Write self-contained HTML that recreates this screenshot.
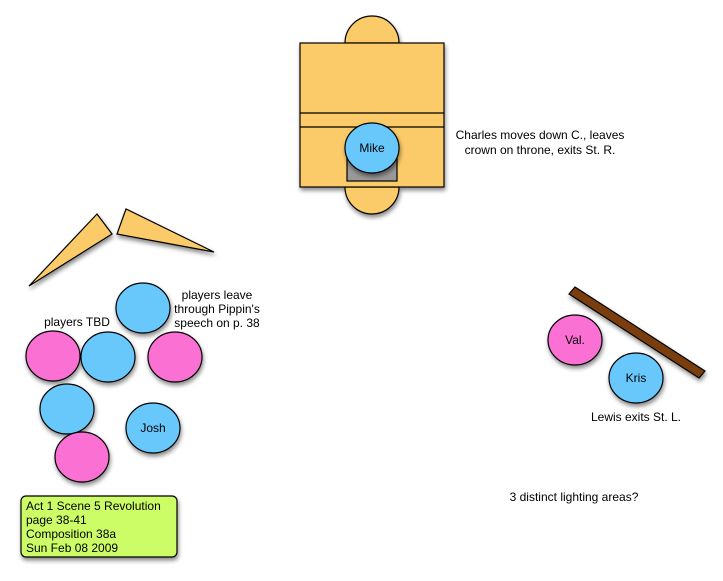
<!DOCTYPE html>
<html><head><style>body{margin:0;background:#fff}svg{display:block}text{font-family:"Liberation Sans",sans-serif;font-size:12px;fill:#000}</style></head><body>
<svg width="723" height="581" viewBox="0 0 723 581" xmlns="http://www.w3.org/2000/svg">
<defs><filter id="s" x="-20%" y="-20%" width="150%" height="150%"><feDropShadow dx="1" dy="3" stdDeviation="2" flood-opacity="0.45"/></filter></defs>
<g stroke="#000" stroke-width="1.2" filter="url(#s)">
<path d="M345,43 A27,27 0 0 1 399,43 Z" fill="#fbcb6b"/>
<path d="M345,187 A27,27 0 0 0 399,187 Z" fill="#fbcb6b"/>
<rect x="300" y="43" width="144" height="144" fill="#fbcb6b"/>
</g>
<g stroke="#000" stroke-width="1.2" fill="none"><line x1="300" y1="113" x2="444" y2="113"/><line x1="300" y1="127" x2="444" y2="127"/></g>
<rect x="347" y="157" width="50" height="24" fill="#999" stroke="#000" stroke-width="1.2"/>
<g stroke="#000" stroke-width="1.2" filter="url(#s)">
<ellipse cx="372" cy="148" rx="27" ry="25" fill="#67c8fc"/>
<polygon points="97,214 112,234 29,286" fill="#fbcb6b"/>
<polygon points="126,209 117,234 214,252" fill="#fbcb6b"/>
<ellipse cx="143" cy="308" rx="27" ry="25" fill="#67c8fc"/>
<ellipse cx="53" cy="356" rx="27" ry="25" fill="#fb6fd3"/>
<ellipse cx="108" cy="357" rx="27" ry="25" fill="#67c8fc"/>
<ellipse cx="175" cy="357" rx="27" ry="25" fill="#fb6fd3"/>
<ellipse cx="67" cy="409" rx="27" ry="25" fill="#67c8fc"/>
<ellipse cx="153" cy="428" rx="27" ry="25" fill="#67c8fc"/>
<ellipse cx="82" cy="457" rx="27" ry="25" fill="#fb6fd3"/>
<rect x="21" y="496" width="156" height="61" rx="5" fill="#ccfd66"/>
<polygon points="569,294 575,287 705,371 699,378" fill="#7a3d10"/>
<ellipse cx="575" cy="340" rx="27" ry="25" fill="#fb6fd3"/>
<ellipse cx="636" cy="378" rx="27" ry="25" fill="#67c8fc"/>
</g>
<text x="372" y="152" text-anchor="middle" font-size="11">Mike</text>
<text x="153" y="432" text-anchor="middle" font-size="11">Josh</text>
<text x="575" y="344" text-anchor="middle" font-size="11">Val.</text>
<text x="636" y="382" text-anchor="middle" font-size="11">Kris</text>
<text x="540" y="139" text-anchor="middle">Charles moves down C., leaves</text>
<text x="540" y="154" text-anchor="middle">crown on throne, exits St. R.</text>
<text x="77" y="326" text-anchor="middle">players TBD</text>
<text x="217" y="299" text-anchor="middle">players leave</text>
<text x="217" y="313" text-anchor="middle">through Pippin's</text>
<text x="217" y="327" text-anchor="middle">speech on p. 38</text>
<text x="636" y="421" text-anchor="middle">Lewis exits St. L.</text>
<text x="574" y="501" text-anchor="middle">3 distinct lighting areas?</text>
<text x="26" y="510">Act 1 Scene 5 Revolution</text>
<text x="26" y="524">page 38-41</text>
<text x="26" y="538">Composition 38a</text>
<text x="26" y="552">Sun Feb 08 2009</text>
</svg>
</body></html>
